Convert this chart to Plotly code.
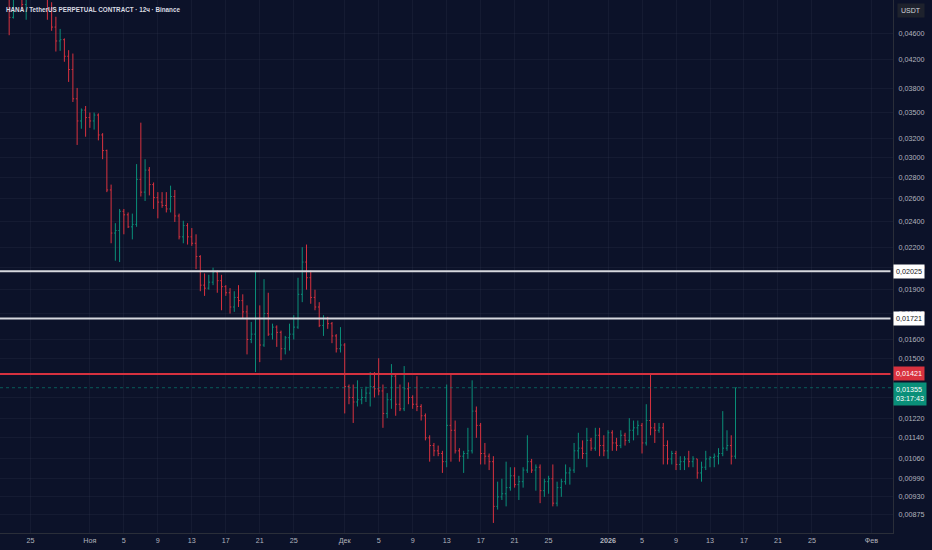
import math
import pandas as pd
import plotly.graph_objects as go

title = 'HANA / TetherUS PERPETUAL CONTRACT · 12ч · Binance'

# 12h bars, first bar opens 2025-10-21 12:00
bar_start = '2025-10-21 12:00'

highs = [
    0.0575, 0.0560, 0.0541, 0.0530, 0.0545, 0.0538, 0.0540, 0.0552, 0.0565, 0.0570,
    0.0558, 0.0545, 0.0512, 0.0487, 0.0467, 0.0452, 0.0434, 0.0429, 0.0381, 0.0355,
    0.0358, 0.0350, 0.0350, 0.0349, 0.0326, 0.0308, 0.0273, 0.0239, 0.0251, 0.0251,
    0.0248, 0.0247, 0.0293, 0.0338, 0.0298, 0.0290, 0.0275, 0.0266, 0.0266, 0.0266,
    0.0272, 0.0268, 0.0247, 0.0241, 0.0239, 0.0235, 0.0230, 0.0214, 0.0201, 0.0200,
    0.0205, 0.0203, 0.0200, 0.0193, 0.0191, 0.0189, 0.0193, 0.0187, 0.0180, 0.0170,
    0.0202, 0.0180, 0.0197, 0.0188, 0.0169, 0.0168, 0.0165, 0.0162, 0.0169, 0.0174,
    0.0198, 0.0220, 0.0222, 0.0203, 0.0190, 0.0182, 0.0174, 0.0173, 0.0170, 0.0163,
    0.0167, 0.0158, 0.0137, 0.0137, 0.0139, 0.0135, 0.0136, 0.0143, 0.0143, 0.0150,
    0.0137, 0.0133, 0.0147, 0.0142, 0.0137, 0.0146, 0.0138, 0.0132, 0.0141, 0.0128,
    0.0124, 0.0115, 0.0112, 0.0111, 0.0109, 0.0137, 0.0142, 0.0121, 0.0110, 0.0109,
    0.0118, 0.0139, 0.0127, 0.0120, 0.0112, 0.0108, 0.0107, 0.0098, 0.0099, 0.0105,
    0.0103, 0.0103, 0.0100, 0.0103, 0.0115, 0.0106, 0.0104, 0.0104, 0.0099, 0.0100,
    0.0104, 0.0098, 0.0099, 0.0104, 0.0103, 0.0112, 0.0116, 0.0113, 0.0118, 0.0114,
    0.0118, 0.0118, 0.0115, 0.0117, 0.0117, 0.0114, 0.0117, 0.0116, 0.0122, 0.0121,
    0.0121, 0.0120, 0.0128, 0.0142, 0.0120, 0.0120, 0.0120, 0.0113, 0.0109, 0.0109,
    0.0107, 0.0107, 0.0109, 0.0107, 0.0106, 0.0105, 0.0109, 0.0107, 0.0108, 0.0110,
    0.0125, 0.0117, 0.0115, 0.01355,
]

lows = [
    0.0540, 0.0528, 0.0457, 0.0484, 0.0518, 0.0498, 0.0482, 0.0520, 0.0532, 0.0535,
    0.0525, 0.0482, 0.0464, 0.0432, 0.0433, 0.0417, 0.0389, 0.0363, 0.0313, 0.0331,
    0.0322, 0.0332, 0.0330, 0.0318, 0.0298, 0.0266, 0.0223, 0.0210, 0.0209, 0.0230,
    0.0235, 0.0226, 0.0236, 0.0262, 0.0258, 0.0263, 0.0251, 0.0243, 0.0252, 0.0248,
    0.0248, 0.0240, 0.0226, 0.0223, 0.0222, 0.0221, 0.0204, 0.0189, 0.0186, 0.0190,
    0.0193, 0.0188, 0.0177, 0.0186, 0.0175, 0.0176, 0.0179, 0.0172, 0.0152, 0.0158,
    0.0143, 0.0148, 0.0156, 0.0162, 0.0160, 0.0156, 0.0149, 0.0152, 0.0154, 0.0160,
    0.0166, 0.0182, 0.0190, 0.0181, 0.0177, 0.0167, 0.0162, 0.0166, 0.0158, 0.0153,
    0.0153, 0.0124, 0.0128, 0.0120, 0.0127, 0.0128, 0.0129, 0.0127, 0.0131, 0.0132,
    0.0118, 0.0122, 0.0126, 0.0123, 0.0125, 0.0125, 0.0128, 0.0126, 0.0125, 0.0121,
    0.0113, 0.0105, 0.0107, 0.0107, 0.0101, 0.0103, 0.0105, 0.0108, 0.0105, 0.0101,
    0.0106, 0.0108, 0.0114, 0.0104, 0.0104, 0.0102, 0.0085, 0.0089, 0.0092, 0.0090,
    0.0095, 0.0096, 0.0092, 0.0096, 0.0101, 0.0101, 0.0095, 0.0091, 0.0093, 0.0094,
    0.0090, 0.0090, 0.0093, 0.0097, 0.0097, 0.0101, 0.0106, 0.0106, 0.0103, 0.0109,
    0.0109, 0.0107, 0.0107, 0.0106, 0.0109, 0.0109, 0.0110, 0.0111, 0.0112, 0.0113,
    0.0115, 0.0108, 0.0111, 0.0115, 0.0112, 0.0116, 0.0104, 0.0104, 0.0104, 0.0102,
    0.0102, 0.0102, 0.0103, 0.0103, 0.0099, 0.0098, 0.0102, 0.0103, 0.0103, 0.0104,
    0.0107, 0.0109, 0.0104, 0.0106,
]

closes = [
    0.0548, 0.0535, 0.0486, 0.0522, 0.0530, 0.0508, 0.0525, 0.0540, 0.0555, 0.0545,
    0.0532, 0.0500, 0.0470, 0.0448, 0.0450, 0.0425, 0.0406, 0.0367, 0.0340, 0.0353,
    0.0344, 0.0340, 0.0347, 0.0324, 0.0307, 0.0268, 0.0231, 0.0233, 0.0249, 0.0246,
    0.0236, 0.0238, 0.0278, 0.0266, 0.0287, 0.0273, 0.0261, 0.0257, 0.0254, 0.0251,
    0.0262, 0.0245, 0.0228, 0.0237, 0.0228, 0.0223, 0.0213, 0.0193, 0.0191, 0.0195,
    0.0202, 0.0196, 0.0192, 0.0188, 0.0179, 0.0185, 0.0183, 0.0176, 0.0160, 0.0163,
    0.0172, 0.0157, 0.0175, 0.0163, 0.0167, 0.0164, 0.0155, 0.0161, 0.0163, 0.0167,
    0.0187, 0.0209, 0.0198, 0.0185, 0.0179, 0.0168, 0.0172, 0.0169, 0.0162, 0.0155,
    0.0157, 0.0136, 0.0131, 0.0129, 0.0130, 0.0131, 0.0133, 0.0136, 0.0135, 0.0134,
    0.0124, 0.0130, 0.0141, 0.0128, 0.0126, 0.0135, 0.0131, 0.0128, 0.0127, 0.0123,
    0.0114, 0.0111, 0.0109, 0.0108, 0.0105, 0.0119, 0.0117, 0.0109, 0.0107, 0.0108,
    0.0109, 0.0125, 0.0119, 0.0108, 0.0107, 0.0105, 0.0090, 0.0093, 0.0094, 0.0096,
    0.0100, 0.0097, 0.0098, 0.0102, 0.0105, 0.0102, 0.0103, 0.0095, 0.0098, 0.0099,
    0.0091, 0.0096, 0.0098, 0.0101, 0.0102, 0.0109, 0.0110, 0.0108, 0.0113, 0.0110,
    0.0115, 0.0111, 0.0109, 0.0116, 0.0112, 0.0111, 0.0115, 0.0113, 0.0117, 0.0118,
    0.0119, 0.0112, 0.0121, 0.0118, 0.0117, 0.0118, 0.0111, 0.0106, 0.0108, 0.0104,
    0.0105, 0.0106, 0.0105, 0.0106, 0.0101, 0.0103, 0.0106, 0.01065, 0.0107, 0.0108,
    0.0110, 0.0111, 0.0107, 0.01355,
]

# every bar opens where the previous one closed
opens = [0.0560] + closes[:-1]

# horizontal levels drawn on the chart
level_white = [0.02025, 0.01721]
level_red = 0.01421
last_price = 0.01355
countdown = '03:17:43'

ytick_vals = [0.046, 0.042, 0.038, 0.035, 0.032, 0.030, 0.028, 0.026, 0.024, 0.022,
              0.0205, 0.019, 0.0175, 0.016, 0.015, 0.0131, 0.0122, 0.0114,
              0.0106, 0.0099, 0.0093, 0.00875]

xtick_dates = ['2025-10-25', '2025-11-01', '2025-11-05', '2025-11-09', '2025-11-13',
               '2025-11-17', '2025-11-21', '2025-11-25', '2025-12-01', '2025-12-05',
               '2025-12-09', '2025-12-13', '2025-12-17', '2025-12-21', '2025-12-25',
               '2026-01-01', '2026-01-05', '2026-01-09', '2026-01-13', '2026-01-17',
               '2026-01-21', '2026-01-25', '2026-02-01']
xtick_text = ['25', 'Ноя', '5', '9', '13', '17', '21', '25', 'Дек', '5', '9', '13',
              '17', '21', '25', '<b>2026</b>', '5', '9', '13', '17', '21', '25', 'Фев']

x_range = ['2025-10-21 10:06', '2026-02-03 13:00']

bg = '#0c1229'
up = '#0a8f79'
down = '#d9323f'
txt = '#b2b5be'
grid = 'rgba(60,66,90,0.2)'
font = 'Liberation Sans'

dates = pd.date_range(bar_start, periods=len(closes), freq='12h')

def fmt(v):
    return '{:.5f}'.format(v).replace('.', ',')

fig = go.Figure()
fig.add_trace(go.Ohlc(
    x=dates, open=opens, high=highs, low=lows, close=closes,
    increasing=dict(line=dict(color=up, width=1)),
    decreasing=dict(line=dict(color=down, width=1)),
    tickwidth=0.3, hoverinfo='skip',
))

# price lines
line_x = [x_range[0], '2026-02-03 06:00']
for lv in level_white:
    fig.add_trace(go.Scatter(x=line_x, y=[lv, lv], mode='lines',
                             line=dict(color='#d6d8de', width=2), hoverinfo='skip'))
fig.add_trace(go.Scatter(x=line_x, y=[level_red, level_red], mode='lines',
                         line=dict(color='#d6313f', width=2), hoverinfo='skip'))
fig.add_trace(go.Scatter(x=[x_range[0], x_range[1]], y=[last_price, last_price], mode='lines',
                         line=dict(color='rgba(8,153,129,0.55)', width=1, dash='dot'),
                         hoverinfo='skip'))

annotations = []
annotations.append(dict(xref='paper', yref='paper', x=0.005, y=0.983,
                        xanchor='left', yanchor='middle', text='<b>' + title + '</b>',
                        font=dict(family=font, size=6.3, color='#d9dbe2'),
                        showarrow=False))
annotations.append(dict(xref='paper', yref='paper', x=1, y=0.995, xshift=4,
                        xanchor='left', yanchor='top', text='USDT',
                        bgcolor='#1e222d', borderpad=3,
                        font=dict(family=font, size=7, color='#d1d4dc'),
                        showarrow=False))
for lv in level_white:
    annotations.append(dict(xref='paper', x=1, xanchor='left', y=math.log10(lv),
                            yanchor='middle', text=fmt(lv), bgcolor='#ffffff',
                            borderpad=2,
                            font=dict(family=font, size=7.2, color='#131722'),
                            showarrow=False))
annotations.append(dict(xref='paper', x=1, xanchor='left', y=math.log10(level_red),
                        yanchor='middle', text=fmt(level_red), bgcolor=down,
                        borderpad=2,
                        font=dict(family=font, size=7.2, color='#ffffff'),
                        showarrow=False))
annotations.append(dict(xref='paper', x=1, xanchor='left', y=math.log10(last_price),
                        yanchor='top', yshift=6, align='left',
                        text=fmt(last_price) + '<br>' + countdown, bgcolor=up,
                        borderpad=2,
                        font=dict(family=font, size=7.2, color='#ffffff'),
                        showarrow=False))

fig.update_layout(
    width=932, height=550,
    margin=dict(l=0, r=39, t=0, b=17, autoexpand=False),
    paper_bgcolor=bg, plot_bgcolor=bg,
    showlegend=False,
    xaxis=dict(
        type='date', range=x_range, rangeslider=dict(visible=False),
        tickmode='array', tickvals=xtick_dates, ticktext=xtick_text,
        showgrid=True, gridcolor=grid, zeroline=False,
        showline=True, linecolor='#2a2e39', linewidth=1, mirror=False,
        ticks='', tickfont=dict(family=font, size=7.2, color=txt),
    ),
    yaxis=dict(
        type='log', side='right',
        range=[math.log10(0.00821), math.log10(0.0516)],
        tickmode='array', tickvals=ytick_vals, ticktext=[fmt(v) for v in ytick_vals],
        showgrid=True, gridcolor=grid, zeroline=False,
        showline=True, linecolor='#2a2e39', linewidth=1,
        ticks='', ticklabelstandoff=3,
        tickfont=dict(family=font, size=7.2, color=txt),
    ),
    annotations=annotations,
)

# page without the default body margin, so the 932x550 figure fills the window
fig.write_html('out.html', config={'displayModeBar': False},
               post_script="document.body.style.margin='0';"
                           "document.body.style.overflow='hidden';")
